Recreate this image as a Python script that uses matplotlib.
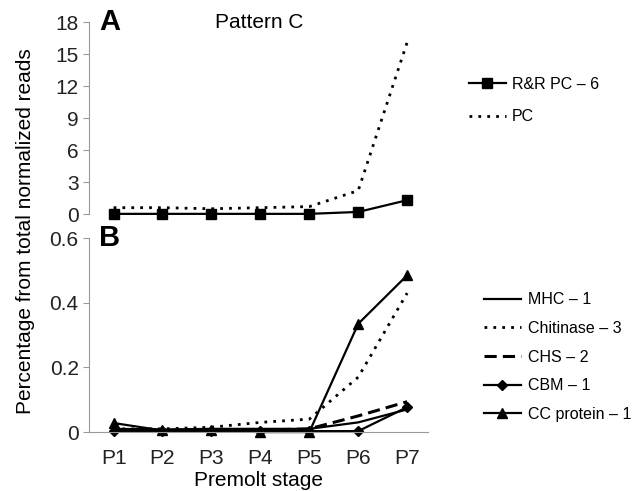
import matplotlib.pyplot as plt

plt.rcParams['font.family'] = ['Liberation Sans', 'DejaVu Sans']

stages = ['P1', 'P2', 'P3', 'P4', 'P5', 'P6', 'P7']

# panel A
rr_pc = [0.02, 0.02, 0.02, 0.02, 0.02, 0.2, 1.3]
pc = [0.6, 0.6, 0.5, 0.6, 0.7, 2.2, 16.1]

# panel B
mhc = [0.01, 0.008, 0.01, 0.01, 0.01, 0.03, 0.07]
chitinase = [0.01, 0.01, 0.015, 0.03, 0.04, 0.17, 0.43]
chs = [0.008, 0.005, 0.008, 0.006, 0.01, 0.05, 0.094]
cbm = [0.003, 0.003, 0.003, 0.003, 0.003, 0.003, 0.077]
cc_protein = [0.028, 0.005, 0.005, 0.0, 0.0, 0.335, 0.485]

gray = '#999999'
x = range(len(stages))

fig = plt.figure(figsize=(6.41, 4.91), dpi=100)
ax1 = fig.add_axes([0.139, 0.564, 0.529, 0.391])
ax2 = fig.add_axes([0.139, 0.120, 0.529, 0.395])

ax1.plot(x, rr_pc, color='black', lw=1.6, marker='s', ms=7, label='R&R PC – 6')
ax1.plot(x, pc, color='black', lw=2, ls=(0, (1, 2.2)), label='PC')
ax1.set_ylim(0, 18)
ax1.set_yticks([0, 3, 6, 9, 12, 15, 18])
ax1.set_xticks([])
ax1.spines['bottom'].set_visible(False)

ax2.plot(x, mhc, color='black', lw=1.6, label='MHC – 1')
ax2.plot(x, chitinase, color='black', lw=2, ls=(0, (1, 2.2)), label='Chitinase – 3')
ax2.plot(x, chs, color='black', lw=2.2, ls=(0, (4, 2)), label='CHS – 2')
ax2.plot(x, cbm, color='black', lw=1.6, marker='D', ms=5, label='CBM – 1')
ax2.plot(x, cc_protein, color='black', lw=1.6, marker='^', ms=7, label='CC protein – 1')
ax2.set_ylim(0, 0.6)
ax2.set_yticks([0, 0.2, 0.4, 0.6])
ax2.set_yticklabels(['0', '0.2', '0.4', '0.6'])
ax2.set_xticks(list(x))
ax2.set_xticklabels(stages)
ax2.tick_params(axis='x', length=0, pad=12)
ax2.set_xlabel('Premolt stage', fontsize=15, labelpad=2)

for ax in (ax1, ax2):
    ax.set_xlim(-0.5, 6.43)
    ax.spines['top'].set_visible(False)
    ax.spines['right'].set_visible(False)
    for s in ('left', 'bottom'):
        ax.spines[s].set_color(gray)
    ax.tick_params(axis='y', colors=gray, length=4, labelsize=15, labelcolor='#222222')
    ax.tick_params(axis='x', labelsize=15, labelcolor='#222222')
    for line in ax.get_lines():
        line.set_clip_on(False)

ax1.text(0.03, 1.0, 'A', transform=ax1.transAxes, fontsize=21, fontweight='bold', va='center')
ax2.text(0.03, 1.0, 'B', transform=ax2.transAxes, fontsize=21, fontweight='bold', va='center')
ax1.text(0.37, 1.0, 'Pattern C', transform=ax1.transAxes, fontsize=15, va='center')

fig.text(0.04, 0.53, 'Percentage from total normalized reads', rotation=90,
         fontsize=15, ha='center', va='center')

ax1.legend(loc='upper left', bbox_to_anchor=(1.077, 0.79), frameon=False,
           fontsize=11.5, handlelength=2.35, handletextpad=0.35, labelspacing=1.1)
ax2.legend(loc='upper left', bbox_to_anchor=(1.121, 0.794), frameon=False,
           fontsize=11.5, handlelength=2.35, handletextpad=0.45, labelspacing=0.85)

fig.savefig('out.png', dpi=100)
